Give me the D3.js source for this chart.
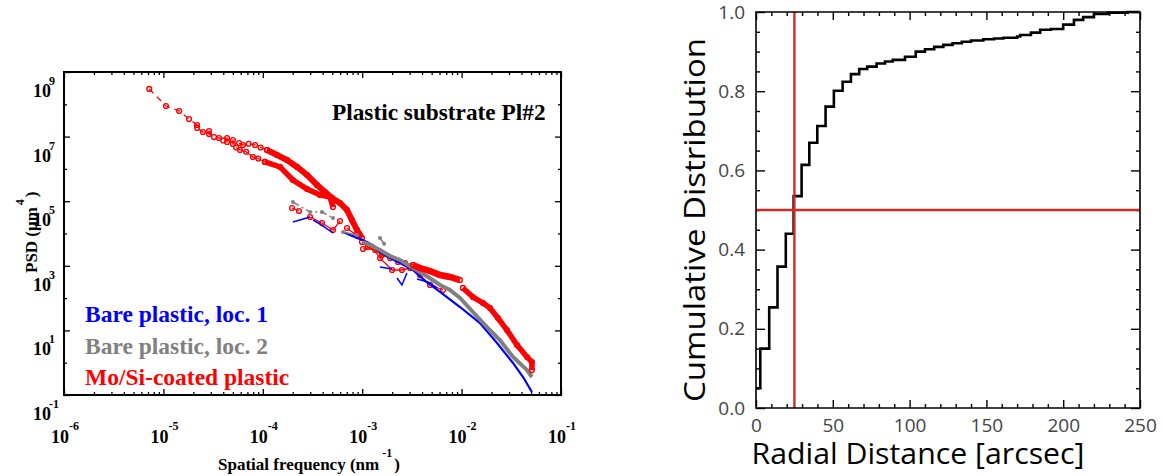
<!DOCTYPE html>
<html>
<head>
<meta charset="utf-8">
<script src="https://cdn.jsdelivr.net/npm/d3@7"></script>
<style>
body{margin:0;background:#fff}
svg{display:block}
.serif{font-family:"Liberation Serif","Times New Roman",serif;font-weight:bold}
.sans{font-family:"Open Sans","Noto Sans",sans-serif}
</style>
</head>
<body>
<svg id="chart" width="1163" height="476"></svg>
<script>
// ---- left panel data: [spatial frequency nm^-1, PSD um^4]
const moLow = [[7.2e-6,3.0e8],[1.06e-5,8.85e7],[1.44e-5,6.2e7],[1.81e-5,3.5e7],[2.18e-5,2.29e7],[2.18e-5,1.85e7],[2.5e-5,1.39e7],[2.88e-5,1.49e7],[2.88e-5,1.2e7],[3.23e-5,9.7e6],[3.62e-5,9.06e6],[4.0e-5,7.6e6],[4.37e-5,9.06e6],[4.37e-5,6.8e6],[5.0e-5,7.85e6],[5.0e-5,5.9e6],[5.77e-5,6.34e6],[6.32e-5,5.5e6],[7.2e-5,6.0e6],[8.36e-5,5.5e6],[9.5e-5,4.6e6],[1.10e-4,3.85e6]]
const moScatter = [[5.4e-5,4.6e6],[5.9e-5,3.85e6],[6.8e-5,3.4e6],[7.96e-5,2.33e6],[9.0e-5,2.1e6],[1.05e-4,1.64e6]]
const moUpper = [[1.10e-4,3.85e6],[1.39e-4,2.69e6],[1.75e-4,1.89e6],[2.21e-4,1.15e6],[2.79e-4,6.47e5],[3.51e-4,3.18e5],[4.23e-4,1.93e5],[4.97e-4,1.26e5],[5.98e-4,8.8e4],[7.03e-4,5.35e4],[7.88e-4,2.62e4],[8.87e-4,1.28e4],[9.95e-4,7.26e3]]
const moLower = [[1.05e-4,1.64e6],[1.49e-4,1.15e6],[2.01e-4,4.53e5],[2.79e-4,2.39e5],[3.76e-4,1.56e5],[4.74e-4,1.35e5],[5.08e-4,6.6e4]]
const moMidA = [[9.95e-4,5.46e3],[1.14e-3,3.82e3],[1.35e-3,3.08e3],[1.58e-3,2.16e3],[1.91e-3,1.74e3],[2.29e-3,1.31e3],[2.7e-3,1.22e3],[3.24e-3,1.06e3]]
const moMidB = [[3.24e-3,1.06e3],[3.81e-3,855],[4.81e-3,690],[6.07e-3,519],[7.64e-3,450],[9.64e-3,363]]
const moMidLow = [[1.02e-3,3.31e3],[1.26e-3,3.82e3],[1.51e-3,1.74e3],[2.0e-3,741],[2.51e-3,741],[3.03e-3,855],[3.81e-3,519],[4.81e-3,255],[6.5e-3,178]]
const moTail = [[1.03e-2,206],[1.30e-2,108],[1.64e-2,70.5],[1.93e-2,49.4],[2.32e-2,24.2],[2.86e-2,10.3],[3.61e-2,3.53],[4.55e-2,1.5],[5.1e-2,1.05],[5.1e-2,0.59]]
const moBitsA = [[1.97e-4,6.15e4],[2.31e-4,4.98e4]]
const moBitsB = [[2.99e-4,3.24e4],[3.94e-4,2.11e4],[5.08e-4,1.28e4],[5.98e-4,2.44e4]]
const moBitsC = [[7.03e-4,1.48e4],[8.67e-4,8.99e3]]

const bareA = [[2.01e-4,2.27e4],[2.99e-4,3.24e4]]
const bareB = [[3.2e-4,2.62e4],[3.76e-4,1.97e4],[4.43e-4,1.38e4],[5.08e-4,1.04e4]]
const bareMain = [[6.41e-4,1.11e4],[7.53e-4,8.99e3],[8.87e-4,7.26e3],[1.02e-3,6.29e3],[1.26e-3,4.41e3],[1.51e-3,2.67e3],[1.91e-3,1.74e3],[2.4e-3,1.22e3],[3.24e-3,741],[4.29e-3,338],[6.07e-3,155],[9.64e-3,53],[1.53e-2,16.9],[2.27e-2,4.07],[3.29e-2,0.98],[4.15e-2,0.36],[5.1e-2,0.124]]
const bareC = [[1.51e-3,918],[2.0e-3,796]]
const bareV = [[2.24e-3,419],[2.51e-3,255],[2.82e-3,598]]
const bareD = [[3.56e-3,390],[4.59e-3,315],[5.66e-3,206]]

const bare2A = [[2.01e-4,9.44e4],[2.99e-4,4.63e4],[3.94e-4,4.63e4],[5.08e-4,3.02e4]]
const bare2B = [[6.41e-4,1.11e4],[8.87e-4,8.99e3]]
const bare2Main = [[1.02e-3,5.46e3],[1.26e-3,4.1e3],[1.51e-3,3.08e3],[1.91e-3,2.01e3],[2.4e-3,1.51e3],[3.24e-3,855],[4.29e-3,519],[6.07e-3,255],[7.64e-3,178],[9.64e-3,101],[1.30e-2,37.1],[1.80e-2,12.7],[2.43e-2,5.05],[3.29e-2,1.5],[4.55e-2,0.59],[5.1e-2,0.36]]
const bare2Spike = [[1.51e-3,7.26e3],[1.66e-3,4.8e3]]

const freqExps = ['-6','-5','-4','-3','-2','-1']
const psdExps = ['-1','1','3','5','7','9']
const legendNames = ['Bare plastic, loc. 1','Bare plastic, loc. 2','Mo/Si-coated plastic']
const legendColors = ['#0000ff','#808080','#ff0000']

// ---- right panel data
const radialEdges = [0,2.8,8.6,14,19.4,24.5,29.7,34.7,39.9,45.3,50.7,56.4,61.8,67.2,72.4,78.5,84,89,97,104,110,116,122,128,134,140,148,155,161,170,172,179,185,192,200,207,213,220,229,242,250]
const cumFrac = [0.05,0.15,0.254,0.357,0.44,0.535,0.614,0.67,0.712,0.761,0.801,0.824,0.843,0.856,0.862,0.870,0.875,0.879,0.887,0.9,0.906,0.912,0.917,0.921,0.925,0.928,0.931,0.933,0.935,0.938,0.942,0.948,0.955,0.957,0.968,0.98,0.987,0.995,0.998,1.0,1.0]
const medianRadius = 25
const medianFrac = 0.5
const radialTicks = [0,50,100,150,200,250]
const fracTicks = [0,0.2,0.4,0.6,0.8,1.0]

const svg = d3.select('#chart')
svg.append('rect').attr('width',1163).attr('height',476).attr('fill','#fff')

// ================= left panel =================
const xL = d3.scaleLog().domain([1e-6,1e-1]).range([64,561])
const yL = d3.scaleLog().domain([1e-1,1e9]).range([395,72])
const lineL = d3.line().x(d => xL(d[0])).y(d => yL(d[1]))

const left = svg.append('g')

const isPow = v => Math.abs(Math.log10(v) - Math.round(Math.log10(v))) < 1e-6
const xMajor = xL.ticks().filter(isPow)
const xMinor = xL.ticks().filter(v => !xMajor.includes(v))
const yAll = yL.ticks().filter(isPow)
const yMajor = yAll.filter(v => Math.round(Math.log10(v)) % 2 !== 0)
const yMinor = yAll.filter(v => !yMajor.includes(v))

function ticksL(axis, vals, size, tr) {
  const g = left.append('g').attr('transform', tr)
    .call(axis.tickValues(vals).tickSizeInner(size).tickSizeOuter(0))
  g.select('.domain').remove()
  g.selectAll('text').remove()
  g.selectAll('line').attr('stroke','#000').attr('stroke-width',1.3)
}
ticksL(d3.axisBottom(xL), xMajor, -6, 'translate(0,395)')
ticksL(d3.axisBottom(xL), xMinor, -3, 'translate(0,395)')
ticksL(d3.axisTop(xL), xMajor, -6, 'translate(0,72)')
ticksL(d3.axisTop(xL), xMinor, -3, 'translate(0,72)')
ticksL(d3.axisLeft(yL), yMajor, -6, 'translate(64,0)')
ticksL(d3.axisLeft(yL), yMinor, -3, 'translate(64,0)')
ticksL(d3.axisRight(yL), yMajor, -6, 'translate(561,0)')
ticksL(d3.axisRight(yL), yMinor, -3, 'translate(561,0)')

const series = [
  {data: moLow, color: '#ff0000', width: 1.3, dash: '6,5', mark: 'circle'},
  {data: moScatter, color: '#ff0000', width: 1.3, dash: null, mark: 'circle'},
  {data: moLower, color: '#ff0000', width: 5.5, dash: null, mark: 'circle'},
  {data: moUpper, color: '#ff0000', width: 6, dash: null, mark: 'circle'},
  {data: moBitsA, color: '#ff0000', width: 1.3, dash: null, mark: 'circle'},
  {data: moBitsB, color: '#ff0000', width: 1.3, dash: null, mark: 'circle'},
  {data: moBitsC, color: '#ff0000', width: 1.3, dash: null, mark: 'circle'},
  {data: moMidA, color: '#ff0000', width: 1.5, dash: null, mark: 'circle'},
  {data: moMidLow, color: '#ff0000', width: 1.3, dash: null, mark: 'circle'},
  {data: bareA, color: '#0000ff', width: 1.5, dash: null, mark: null},
  {data: bareB, color: '#0000ff', width: 1.5, dash: null, mark: null},
  {data: bareMain, color: '#0000ff', width: 2.2, dash: null, mark: null},
  {data: bareC, color: '#0000ff', width: 1.5, dash: null, mark: null},
  {data: bareV, color: '#0000ff', width: 1.5, dash: null, mark: null},
  {data: bareD, color: '#0000ff', width: 1.5, dash: null, mark: null},
  {data: bare2A, color: '#808080', width: 1.5, dash: '7,3,2,3', mark: 'dot'},
  {data: bare2B, color: '#808080', width: 1.5, dash: null, mark: 'dot'},
  {data: bare2Spike, color: '#808080', width: 1.5, dash: null, mark: 'dot'},
  {data: bare2Main, color: '#808080', width: 4, dash: null, mark: null},
  {data: moMidB, color: '#ff0000', width: 6.5, dash: null, mark: 'circle'},
  {data: moTail, color: '#ff0000', width: 5.5, dash: null, mark: 'circle'}
]

const plot = left.append('g')
series.forEach(s => {
  plot.append('path')
    .attr('d', lineL(s.data))
    .attr('fill','none')
    .attr('stroke', s.color)
    .attr('stroke-width', s.width)
    .attr('stroke-dasharray', s.dash)
  if (s.mark === 'circle') {
    plot.selectAll(null).data(s.data).enter().append('circle')
      .attr('cx', d => xL(d[0])).attr('cy', d => yL(d[1]))
      .attr('r', 2.4).attr('fill','none').attr('stroke', s.color).attr('stroke-width',1.4)
  } else if (s.mark === 'dot') {
    plot.selectAll(null).data(s.data).enter().append('circle')
      .attr('cx', d => xL(d[0])).attr('cy', d => yL(d[1]))
      .attr('r', 2).attr('fill', s.color)
  }
})

left.append('rect').attr('x',64).attr('y',72).attr('width',497).attr('height',323)
  .attr('fill','none').attr('stroke','#000').attr('stroke-width',2)

// x labels: exponent after the "10"
freqExps.forEach(e => {
  const t = left.append('text').attr('class','serif')
    .attr('x', xL(Math.pow(10, +e)) + 1).attr('y', 443)
    .attr('text-anchor','middle').style('font-size','18px')
  t.append('tspan').text('10')
  t.append('tspan').attr('dy',-13).style('font-size','12px').text(e)
})
// y labels: exponent sits above the last digit
psdExps.forEach(e => {
  const y = yL(Math.pow(10, +e)) + 25
  left.append('text').attr('class','serif').attr('x',51).attr('y',y)
    .attr('text-anchor','end').style('font-size','18px').text('10')
  left.append('text').attr('class','serif').attr('x',49).attr('y',y - 12)
    .attr('text-anchor','start').style('font-size','12px').text(e)
})

const xt = left.append('text').attr('class','serif').attr('x',218).attr('y',470).style('font-size','17px')
xt.append('tspan').text('Spatial frequency (nm')
xt.append('tspan').attr('dy',-13).attr('dx',3).style('font-size','12px').text('-1')
xt.append('tspan').attr('dy',13).attr('dx',2).text(')')

const yt = left.append('text').attr('class','serif').attr('transform','translate(37,273) rotate(-90)').style('font-size','17px')
yt.append('tspan').text('PSD (μm')
yt.append('tspan').attr('dy',-13).attr('dx',2).style('font-size','12px').text('4')
yt.append('tspan').attr('dy',13).attr('dx',2).text(')')

left.append('text').attr('class','serif').attr('x',332).attr('y',120).style('font-size','23.3px')
  .text('Plastic substrate Pl#2')

left.selectAll('.leg').data(legendNames).enter().append('text')
  .attr('class','serif leg')
  .attr('x',85).attr('y',(d,i) => 322 + i*31.5)
  .attr('fill',(d,i) => legendColors[i])
  .style('font-size','23.5px')
  .text(d => d)

// ================= right panel =================
const xR = d3.scaleLinear().domain([0,250]).range([756,1140])
const yR = d3.scaleLinear().domain([0,1]).range([408,12])
const right = svg.append('g')

const rMinorX = d3.range(0,251,10).filter(v => !radialTicks.includes(v))
const rMinorY = d3.range(0,1.0001,0.05).filter(v => !fracTicks.some(t => Math.abs(t - v) < 1e-6))

function ticksR(axis, vals, size, tr, labels) {
  const g = right.append('g').attr('transform', tr)
    .call(axis.tickValues(vals).tickSizeInner(size).tickSizeOuter(0).tickPadding(11)
      .tickFormat(labels ? labels : null))
  g.select('.domain').remove()
  g.selectAll('line').attr('stroke','#000').attr('stroke-width',1.4)
  if (labels) g.selectAll('text').attr('class','sans').style('font-size','19px').attr('fill','#444')
  else g.selectAll('text').remove()
}
ticksR(d3.axisBottom(xR), radialTicks, -8, 'translate(0,408)', d3.format('d'))
ticksR(d3.axisBottom(xR), rMinorX, -4, 'translate(0,408)')
ticksR(d3.axisTop(xR), radialTicks, -8, 'translate(0,12)')
ticksR(d3.axisTop(xR), rMinorX, -4, 'translate(0,12)')
ticksR(d3.axisLeft(yR), fracTicks, -9, 'translate(756,0)', d3.format('.1f'))
ticksR(d3.axisLeft(yR), rMinorY, -4, 'translate(756,0)')
ticksR(d3.axisRight(yR), fracTicks, -9, 'translate(1140,0)')
ticksR(d3.axisRight(yR), rMinorY, -4, 'translate(1140,0)')

right.append('path')
  .datum(radialEdges.map((r, i) => [r, cumFrac[i]]))
  .attr('d', d3.line().x(d => xR(d[0])).y(d => yR(d[1])).curve(d3.curveStepAfter))
  .attr('fill','none').attr('stroke','#000').attr('stroke-width',2.6)

right.append('line')
  .attr('x1', xR(medianRadius)).attr('x2', xR(medianRadius))
  .attr('y1', yR(0)).attr('y2', yR(1))
  .attr('stroke','#d42a24').attr('stroke-width',2.4)
right.append('line')
  .attr('x1', xR(0)).attr('x2', xR(250))
  .attr('y1', yR(medianFrac)).attr('y2', yR(medianFrac))
  .attr('stroke','#d42a24').attr('stroke-width',2.4)

right.append('path')
  .attr('d', `M756,12V408H1140V12Z`)
  .attr('fill','none').attr('stroke','#000').attr('stroke-width',1.6)

right.append('text').attr('class','sans').attr('x',918).attr('y',464)
  .attr('text-anchor','middle').style('font-size','29px').attr('fill','#000')
  .attr('textLength',333).attr('lengthAdjust','spacingAndGlyphs')
  .text('Radial Distance [arcsec]')
right.append('text').attr('class','sans')
  .attr('transform','translate(705,220) rotate(-90)')
  .attr('text-anchor','middle').style('font-size','30px').attr('fill','#000')
  .attr('textLength',364).attr('lengthAdjust','spacingAndGlyphs')
  .text('Cumulative Distribution')
</script>
</body>
</html>
